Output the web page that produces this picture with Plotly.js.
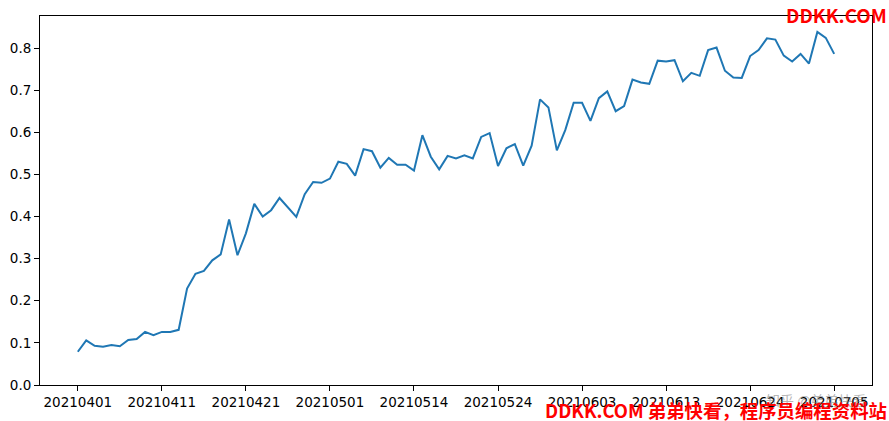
<!DOCTYPE html>
<html>
<head>
<meta charset="utf-8">
<script src="https://cdn.plot.ly/plotly-3.0.1.min.js"></script>
<style>html,body{margin:0;padding:0;background:#fff;}#chart{width:889px;height:421px;}</style>
</head>
<body>
<div id="chart"></div>
<script>
const dates = [
  "20210401","20210402","20210403","20210404","20210405","20210406","20210407","20210408","20210409","20210410",
  "20210411","20210412","20210413","20210414","20210415","20210416","20210417","20210418","20210419","20210420",
  "20210421","20210422","20210423","20210424","20210425","20210426","20210427","20210428","20210429","20210430",
  "20210501","20210502","20210506","20210507","20210508","20210509","20210510","20210511","20210512","20210513",
  "20210514","20210515","20210516","20210517","20210518","20210519","20210520","20210521","20210522","20210523",
  "20210524","20210525","20210526","20210527","20210528","20210529","20210530","20210531","20210601","20210602",
  "20210603","20210604","20210605","20210606","20210607","20210608","20210609","20210610","20210611","20210612",
  "20210613","20210615","20210616","20210617","20210618","20210619","20210620","20210621","20210622","20210623",
  "20210624","20210625","20210626","20210627","20210628","20210629","20210630","20210702","20210703","20210704",
  "20210705"
];
const values = [
  0.079,0.106,0.093,0.091,0.095,0.092,0.107,0.109,0.126,0.118,
  0.126,0.126,0.131,0.229,0.264,0.271,0.296,0.310,0.393,0.308,
  0.360,0.430,0.400,0.415,0.444,0.421,0.399,0.453,0.482,0.480,
  0.490,0.530,0.525,0.497,0.560,0.555,0.516,0.539,0.523,0.523,
  0.509,0.593,0.542,0.512,0.544,0.538,0.545,0.538,0.589,0.598,
  0.520,0.562,0.572,0.521,0.568,0.678,0.659,0.557,0.605,0.670,
  0.670,0.627,0.681,0.697,0.650,0.662,0.725,0.718,0.715,0.770,
  0.768,0.771,0.721,0.741,0.734,0.795,0.801,0.746,0.730,0.729,
  0.781,0.795,0.823,0.820,0.782,0.768,0.786,0.763,0.838,0.824,
  0.786
];
const tickLabels = ["20210401","20210411","20210421","20210501","20210514","20210524","20210603","20210613","20210624","20210705"];
const yTicks = [0.0,0.1,0.2,0.3,0.4,0.5,0.6,0.7,0.8];

const trace = {
  x: dates, y: values, type: "scatter", mode: "lines",
  line: {color: "#1f77b4", width: 2}, hoverinfo: "x+y"
};
const axisCommon = {
  showgrid: false, zeroline: false, showline: true, linecolor: "#000", linewidth: 1,
  mirror: true, ticks: "outside", ticklen: 5, tickwidth: 1, tickcolor: "#000",
  tickfont: {family: "DejaVu Sans", size: 13.5, color: "#000"}
};
const layout = {
  width: 889, height: 421,
  margin: {l: 40, r: 17, t: 16, b: 36},
  paper_bgcolor: "#fff", plot_bgcolor: "#fff",
  showlegend: false,
  xaxis: Object.assign({}, axisCommon, {
    type: "category", range: [-4.5, 94.5],
    tickmode: "array", tickvals: tickLabels, ticktext: tickLabels
  }),
  yaxis: Object.assign({}, axisCommon, {
    range: [0, 0.876], tickmode: "array", tickvals: yTicks,
    ticktext: yTicks.map(v => v.toFixed(1))
  }),
  annotations: [
    {text: "知乎 @弟弟快看", xref: "paper", yref: "paper", x: 0.995, y: -0.042,
     xanchor: "right", yanchor: "middle", showarrow: false,
     font: {family: "Noto Sans CJK SC", size: 14, color: "rgba(120,120,120,0.55)"}},
    {text: "<b>DDKK.COM</b>", xref: "paper", yref: "paper", x: 1.0205, y: 1.003,
     xanchor: "right", yanchor: "middle", showarrow: false,
     font: {family: "Noto Sans CJK SC", size: 18.8, color: "#ff0000"}},
    {text: "<b>DDKK.COM 弟弟快看，程序员编程资料站</b>", xref: "paper", yref: "paper", x: 1.0205, y: -0.068,
     xanchor: "right", yanchor: "middle", showarrow: false,
     font: {family: "Noto Sans CJK SC", size: 18.4, color: "#ff0000"}}
  ]
};
Plotly.newPlot("chart", [trace], layout, {displayModeBar: false, staticPlot: true});
</script>
</body>
</html>
